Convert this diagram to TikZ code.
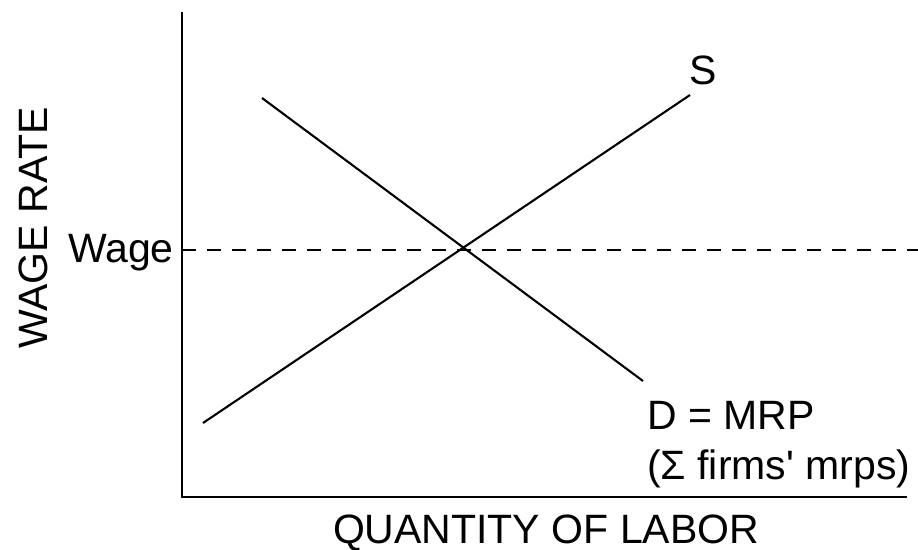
\documentclass[tikz,border=0pt]{standalone}
\usepackage{fontspec}
\setmainfont{Liberation Sans}
\begin{document}
\begin{tikzpicture}[x=1pt,y=-1pt,
  axis/.style={line width=2.4pt},
  curve/.style={line width=2.1pt},
  lbl/.style={inner sep=0pt,font=\fontsize{41}{47}\selectfont,text=black}]
\useasboundingbox (0,0) rectangle (918,549);
\coordinate (ytop) at (182,12);
\coordinate (orig) at (182,497);
\coordinate (xend) at (907,497);
\draw[axis] (ytop) -- (orig) -- (xend);
\coordinate (s1) at (203,423);
\coordinate (s2) at (690,95);
\coordinate (d1) at (262,98);
\coordinate (d2) at (643,381);
\draw[curve] (s1) -- (s2);
\draw[curve] (d1) -- (d2);
\coordinate (w1) at (182,250);
\coordinate (w2) at (918,250);
\draw[curve,dash pattern=on 14pt off 11pt] (w1) -- (w2);
\node[lbl,anchor=base east] (wage) at (174,262) {Wage};
\node[lbl,anchor=base west] (slbl) at (689,84) {S};
\node[lbl,anchor=base west] (dlbl) at (647,429) {D = MRP};
\node[lbl,anchor=base west] (dsub) at (647,479) {(Σ firms\textquotesingle{} mrps)};
\node[lbl,anchor=base] (xlbl) at (546,543) {QUANTITY OF LABOR};
\node[lbl,rotate=90,anchor=base] (ylbl) at (47,228) {WAGE RATE};
\end{tikzpicture}
\end{document}
